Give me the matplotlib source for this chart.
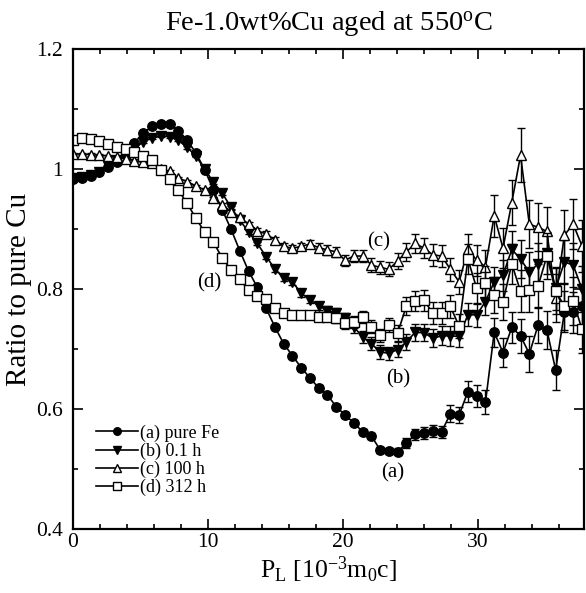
import matplotlib
matplotlib.use("Agg")
import matplotlib.pyplot as plt
from matplotlib.ticker import MultipleLocator, FuncFormatter

plt.rcParams['font.family'] = ['Liberation Serif', 'DejaVu Serif']
plt.rcParams['mathtext.fontset'] = 'custom'
plt.rcParams['mathtext.rm'] = 'Liberation Serif'
plt.rcParams['mathtext.it'] = 'Liberation Serif:italic'

# P_L positions (10^-3 m0c)
p_l = [0.0, 0.65, 1.3, 1.95, 2.6, 3.25, 3.9, 4.55, 5.2, 5.85,
       6.5, 7.15, 7.8, 8.45, 9.1, 9.75, 10.4, 11.05, 11.7, 12.35,
       13.0, 13.65, 14.3, 14.95, 15.6, 16.25, 16.9, 17.55, 18.2, 18.85,
       19.5, 20.15, 20.8, 21.45, 22.1, 22.75, 23.4, 24.05, 24.7, 25.35,
       26.0, 26.65, 27.3, 27.95, 28.6, 29.25, 29.9, 30.55, 31.2, 31.85,
       32.5, 33.15, 33.8, 34.45, 35.1, 35.75, 36.4, 37.05, 37.7]

# (a) pure Fe
pure_fe = [0.983, 0.985, 0.988, 0.995, 1.004, 1.012, 1.023, 1.044, 1.060, 1.071,
           1.075, 1.075, 1.064, 1.048, 1.027, 0.999, 0.965, 0.932, 0.900, 0.864,
           0.830, 0.803, 0.768, 0.737, 0.709, 0.689, 0.669, 0.652, 0.635, 0.623,
           0.604, 0.590, 0.577, 0.562, 0.555, 0.532, 0.530, 0.529, 0.543, 0.558,
           0.560, 0.564, 0.562, 0.592, 0.590, 0.629, 0.622, 0.611, 0.728, 0.694,
           0.736, 0.722, 0.692, 0.740, 0.732, 0.665, 0.762, 0.761, 0.772]
pure_fe_err = [0.002, 0.002, 0.002, 0.002, 0.002, 0.002, 0.002, 0.002, 0.002, 0.002,
               0.002, 0.002, 0.002, 0.002, 0.002, 0.002, 0.003, 0.003, 0.003, 0.003,
               0.003, 0.003, 0.003, 0.003, 0.003, 0.003, 0.003, 0.003, 0.005, 0.005,
               0.005, 0.005, 0.005, 0.005, 0.005, 0.005, 0.005, 0.006, 0.008, 0.009,
               0.010, 0.010, 0.010, 0.014, 0.014, 0.017, 0.018, 0.020, 0.024, 0.024,
               0.026, 0.028, 0.030, 0.030, 0.032, 0.033, 0.034, 0.034, 0.036]

# (b) 0.1 h
aged_01h = [0.985, 0.986, 0.990, 0.995, 1.005, 1.015, 1.025, 1.035, 1.045, 1.052,
            1.055, 1.054, 1.048, 1.036, 1.022, 1.000, 0.978, 0.960, 0.936, 0.915,
            0.895, 0.876, 0.854, 0.834, 0.818, 0.812, 0.793, 0.782, 0.772, 0.764,
            0.760, 0.751, 0.737, 0.720, 0.709, 0.695, 0.693, 0.699, 0.712, 0.728,
            0.727, 0.718, 0.722, 0.722, 0.721, 0.757, 0.757, 0.779, 0.812, 0.823,
            0.866, 0.850, 0.828, 0.842, 0.860, 0.801, 0.845, 0.840, 0.800]
aged_01h_err = [0.002, 0.002, 0.002, 0.002, 0.002, 0.002, 0.002, 0.002, 0.002, 0.002,
                0.002, 0.002, 0.002, 0.002, 0.002, 0.003, 0.003, 0.003, 0.003, 0.003,
                0.003, 0.003, 0.004, 0.005, 0.005, 0.006, 0.006, 0.006, 0.007, 0.007,
                0.008, 0.009, 0.010, 0.010, 0.011, 0.011, 0.011, 0.012, 0.013, 0.014,
                0.014, 0.015, 0.016, 0.017, 0.018, 0.019, 0.020, 0.022, 0.024, 0.026,
                0.030, 0.032, 0.033, 0.034, 0.035, 0.036, 0.036, 0.037, 0.038]

# (c) 100 h
aged_100h = [1.025, 1.025, 1.024, 1.023, 1.022, 1.020, 1.017, 1.014, 1.011, 1.010,
             1.000, 0.996, 0.985, 0.979, 0.972, 0.965, 0.951, 0.940, 0.929, 0.920,
             0.908, 0.897, 0.892, 0.882, 0.871, 0.868, 0.871, 0.875, 0.869, 0.865,
             0.862, 0.848, 0.855, 0.855, 0.840, 0.836, 0.833, 0.847, 0.862, 0.876,
             0.868, 0.857, 0.855, 0.833, 0.812, 0.866, 0.848, 0.837, 0.922, 0.868,
             0.944, 1.023, 0.908, 0.903, 0.896, 0.785, 0.890, 0.908, 0.872]
aged_100h_err = [0.002, 0.002, 0.002, 0.002, 0.002, 0.002, 0.002, 0.002, 0.002, 0.002,
                 0.002, 0.002, 0.002, 0.002, 0.002, 0.003, 0.003, 0.003, 0.003, 0.003,
                 0.003, 0.004, 0.005, 0.005, 0.006, 0.006, 0.006, 0.007, 0.007, 0.008,
                 0.008, 0.009, 0.010, 0.010, 0.011, 0.011, 0.012, 0.013, 0.015, 0.016,
                 0.017, 0.018, 0.018, 0.019, 0.020, 0.025, 0.026, 0.028, 0.035, 0.033,
                 0.038, 0.045, 0.040, 0.040, 0.041, 0.040, 0.042, 0.042, 0.043]

# (d) 312 h
aged_312h = [1.049, 1.052, 1.050, 1.046, 1.041, 1.037, 1.033, 1.029, 1.022, 1.015,
             0.999, 0.984, 0.965, 0.943, 0.918, 0.895, 0.878, 0.852, 0.832, 0.816,
             0.799, 0.788, 0.783, 0.768, 0.760, 0.757, 0.757, 0.757, 0.754, 0.754,
             0.751, 0.743, 0.745, 0.754, 0.737, 0.723, 0.740, 0.727, 0.772, 0.780,
             0.781, 0.760, 0.760, 0.771, 0.738, 0.850, 0.801, 0.810, 0.790, 0.779,
             0.842, 0.796, 0.798, 0.805, 0.855, 0.797, 0.771, 0.780, 0.733]
aged_312h_err = [0.002, 0.002, 0.002, 0.002, 0.002, 0.002, 0.002, 0.002, 0.002, 0.002,
                 0.002, 0.002, 0.002, 0.002, 0.002, 0.003, 0.003, 0.003, 0.003, 0.003,
                 0.003, 0.004, 0.005, 0.005, 0.006, 0.006, 0.006, 0.007, 0.007, 0.008,
                 0.008, 0.009, 0.010, 0.010, 0.011, 0.011, 0.012, 0.013, 0.015, 0.016,
                 0.017, 0.018, 0.018, 0.019, 0.020, 0.025, 0.026, 0.028, 0.030, 0.030,
                 0.033, 0.035, 0.036, 0.037, 0.038, 0.038, 0.039, 0.040, 0.040]

series = [
    (pure_fe, pure_fe_err, 'o', 'black', '(a) pure Fe'),
    (aged_01h, aged_01h_err, 'v', 'black', '(b) 0.1 h'),
    (aged_100h, aged_100h_err, '^', 'white', '(c) 100 h'),
    (aged_312h, aged_312h_err, 's', 'white', '(d) 312 h'),
]

fig = plt.figure(figsize=(5.86, 5.93), dpi=100)
ax = fig.add_axes([0.1246, 0.1079, 0.872, 0.8094])

for vals, err, mk, fc, lab in series:
    ax.errorbar(p_l, vals, yerr=err, fmt='none', ecolor='black',
                elinewidth=1.0, capsize=3.2, capthick=1.0)
    ax.plot(p_l, vals, color='black', lw=1.2, marker=mk, ms=6.8,
            mfc=fc, mec='black', mew=1.0, label=lab)

ax.text(22.6, 0.879, "(c)", ha='center', va='center', fontsize=15)
ax.text(10.1, 0.81, "(d)", ha='center', va='center', fontsize=15)
ax.text(24.1, 0.651, "(b)", ha='center', va='center', fontsize=15)
ax.text(23.7, 0.493, "(a)", ha='center', va='center', fontsize=15)

ax.set_xlim(0, 37.85)
ax.set_ylim(0.4, 1.2)
ax.xaxis.set_major_locator(MultipleLocator(10))
ax.xaxis.set_minor_locator(MultipleLocator(2))
ax.yaxis.set_major_locator(MultipleLocator(0.2))
ax.yaxis.set_minor_locator(MultipleLocator(0.1))
ax.yaxis.set_major_formatter(FuncFormatter(lambda v, p: f"{v:g}"))
ax.tick_params(which='both', direction='in', top=True, right=True, labelsize=15.5)
ax.tick_params(which='major', length=7, width=1.2)
ax.tick_params(which='minor', length=3.5, width=1.2)
ax.tick_params(axis='x', pad=3)
ax.tick_params(axis='y', pad=7)
for sp in ax.spines.values():
    sp.set_linewidth(1.6)

ax.set_xlabel("P$_\\mathregular{L}$ [10$^\\mathregular{-3}$m$_\\mathregular{0}$c]", fontsize=18.5, labelpad=2)
ax.set_ylabel("Ratio to pure Cu", fontsize=21, labelpad=3)
ax.set_title("Fe-1.0wt%Cu aged at 550$^\\mathregular{o}$C", fontsize=20.5, pad=13)

ax.legend(loc='upper left', bbox_to_anchor=(0.045, 0.218), frameon=False,
          fontsize=13, handlelength=2.3, handletextpad=0.15, labelspacing=0.05,
          borderaxespad=0, borderpad=0, markerscale=0.8)

fig.savefig("out.png", dpi=100)
